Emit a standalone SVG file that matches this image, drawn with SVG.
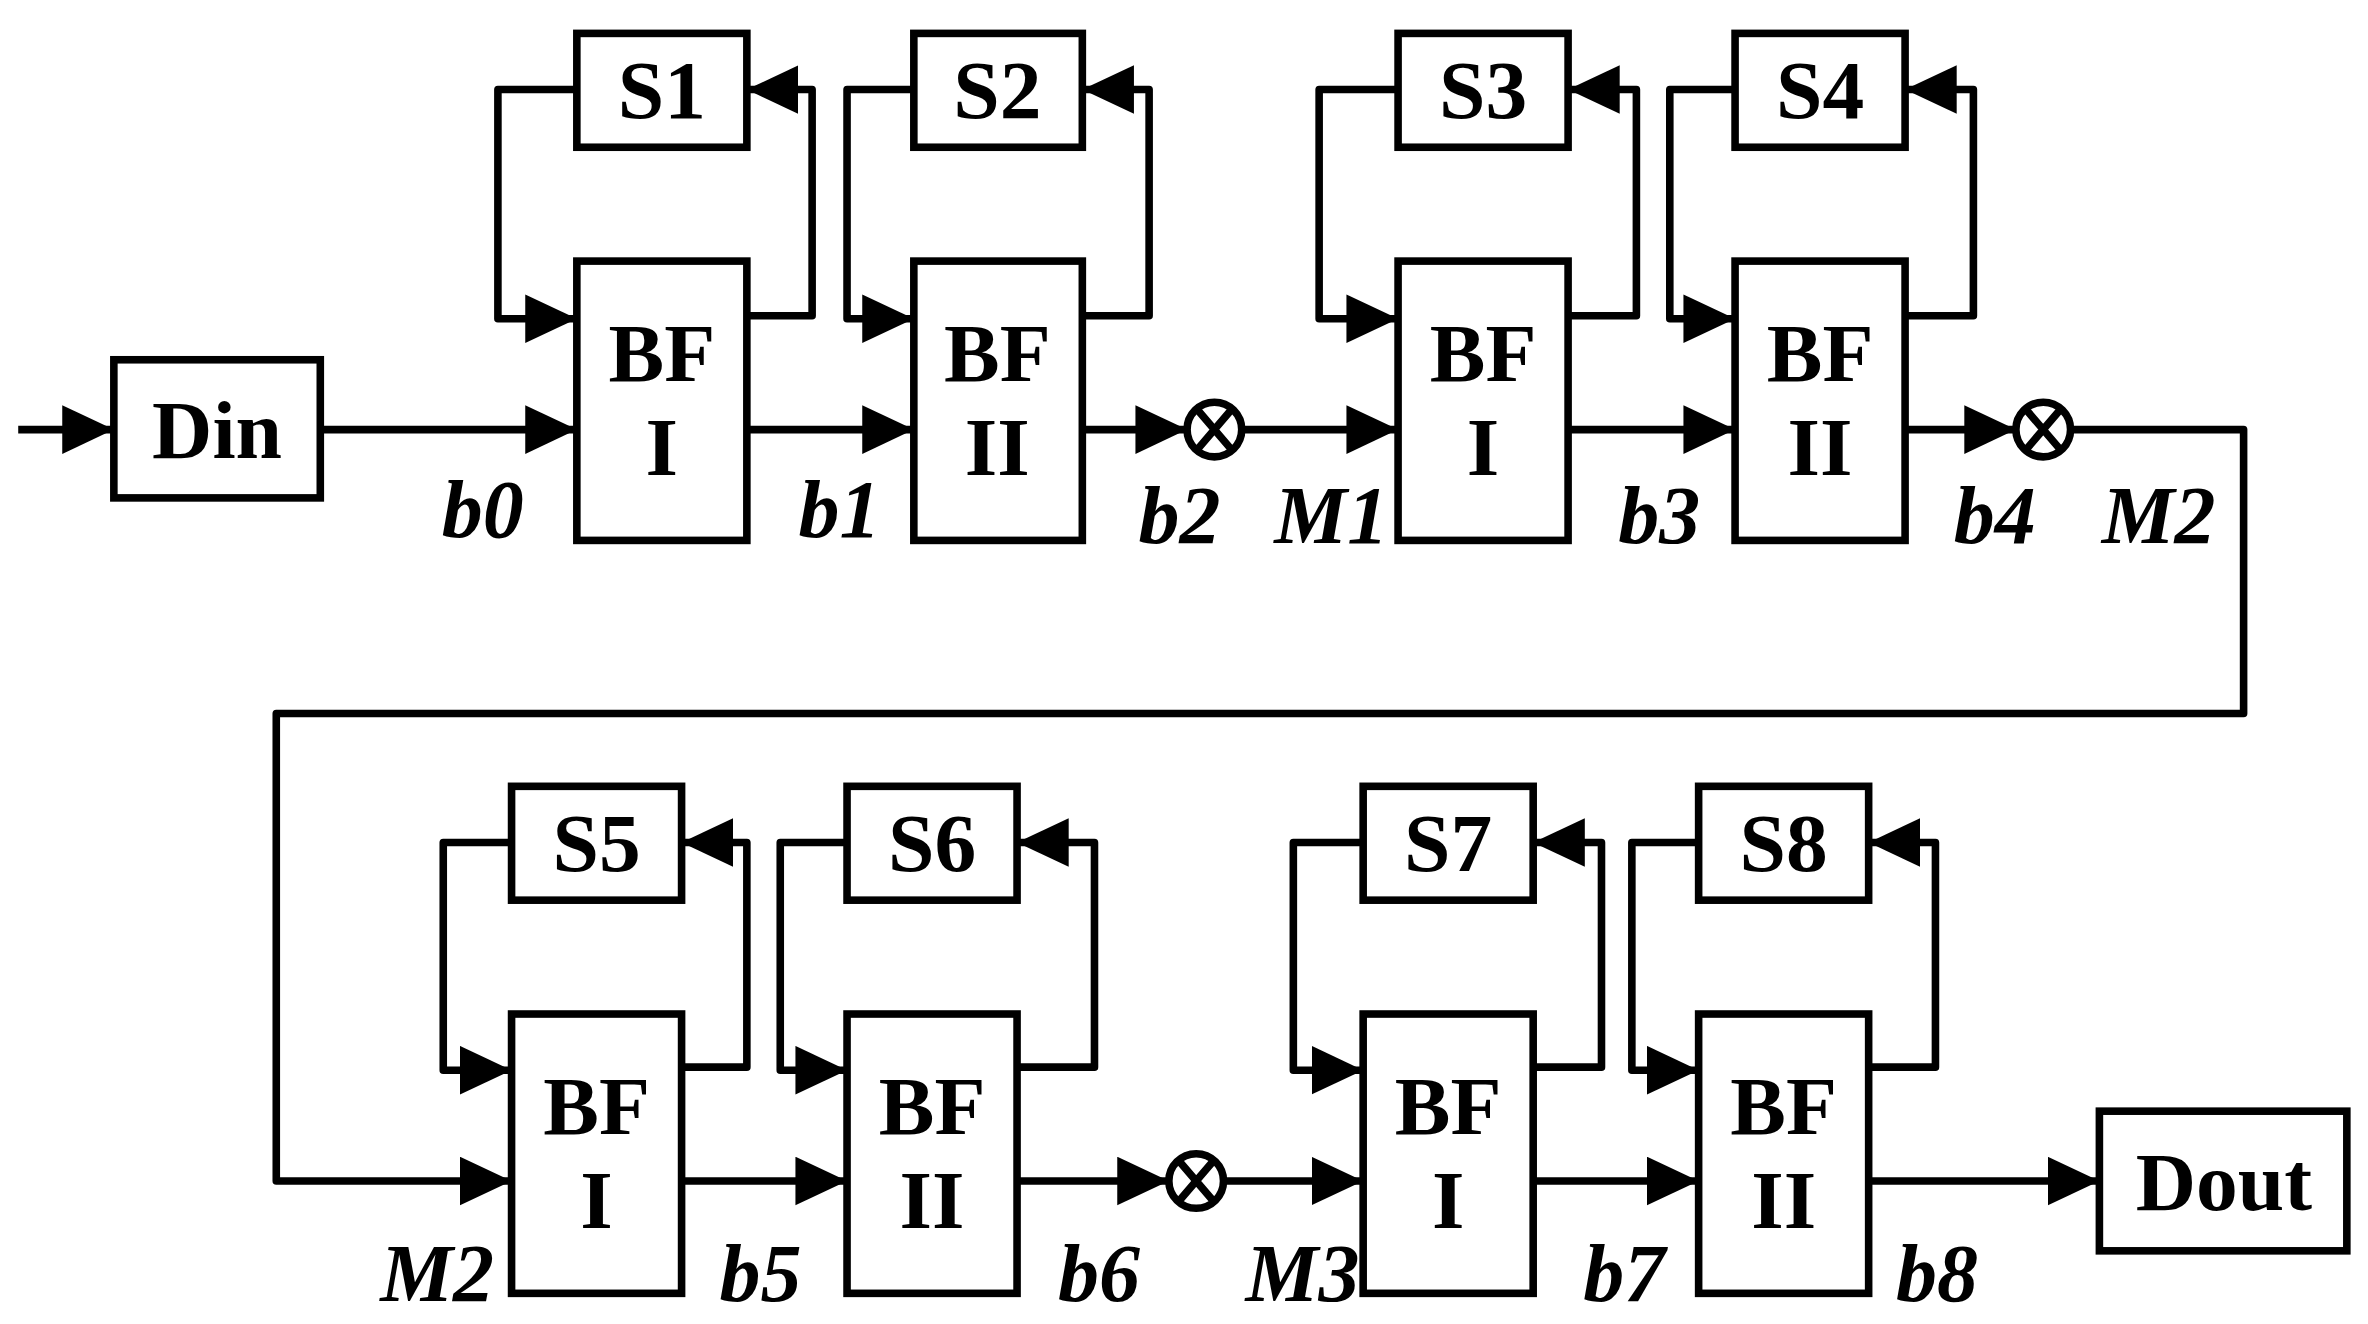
<svg xmlns="http://www.w3.org/2000/svg" width="2368" height="1324" viewBox="0 0 2368 1324">
<style>
.b{fill:#fff;stroke:#000;stroke-width:5}
.w{fill:none;stroke:#000;stroke-width:5;stroke-linejoin:round}
.a{marker-end:url(#ah)}
.t{font-family:"Liberation Serif",serif;font-weight:bold;font-size:55px;text-anchor:middle}
.l{font-family:"Liberation Serif",serif;font-weight:bold;font-style:italic;font-size:54px;text-anchor:middle}
</style>
<defs>
<marker id="ah" markerUnits="userSpaceOnUse" markerWidth="36" markerHeight="34" refX="34" refY="16" orient="auto"><path d="M0,0 L34,16 L0,32 z" fill="#000"/></marker>
</defs>
<rect width="2368" height="1324" fill="#fff"/>
<g transform="scale(1.518)">
<g id="connectors">
<path class="w a" d="M12,283 H75"/>
<path class="w a" d="M211,283 H380"/>
<path class="w a" d="M492,283 H602"/>
<path class="w a" d="M713,283 H782"/>
<path class="w a" d="M818,283 H921"/>
<path class="w a" d="M1033,283 H1143"/>
<path class="w a" d="M1255,283 H1328"/>
<path class="w a" d="M1364,283 H1478 V470 H182 V778 H337"/>
<path class="w a" d="M449,778 H558"/>
<path class="w a" d="M670,778 H770"/>
<path class="w a" d="M806,778 H898"/>
<path class="w a" d="M1010,778 H1119"/>
<path class="w a" d="M1231,778 H1383"/>
<path class="w a" d="M380,59 H328 V210 H380"/><path class="w a" d="M492,208 H535 V59 H492"/>
<path class="w a" d="M602,59 H558 V210 H602"/><path class="w a" d="M713,208 H757 V59 H713"/>
<path class="w a" d="M921,59 H869 V210 H921"/><path class="w a" d="M1033,208 H1078 V59 H1033"/>
<path class="w a" d="M1143,59 H1100 V210 H1143"/><path class="w a" d="M1255,208 H1300 V59 H1255"/>
<path class="w a" d="M337,555 H292 V705 H337"/><path class="w a" d="M449,703 H492 V555 H449"/>
<path class="w a" d="M558,555 H514 V705 H558"/><path class="w a" d="M670,703 H721 V555 H670"/>
<path class="w a" d="M898,555 H852 V705 H898"/><path class="w a" d="M1010,703 H1055 V555 H1010"/>
<path class="w a" d="M1119,555 H1075 V705 H1119"/><path class="w a" d="M1231,703 H1275 V555 H1231"/>
</g>
<g id="din"><rect class="b" x="75" y="237" width="136" height="91"/><text class="t" x="143" y="302">Din</text></g>
<g id="dout"><rect class="b" x="1383" y="732" width="163" height="92"/><text class="t" x="1465" y="797">Dout</text></g>
<g id="s1"><rect class="b" x="380" y="22" width="112" height="75"/><text class="t" x="436" y="78">S1</text></g>
<g id="s2"><rect class="b" x="602" y="22" width="111" height="75"/><text class="t" x="657" y="78">S2</text></g>
<g id="s3"><rect class="b" x="921" y="22" width="112" height="75"/><text class="t" x="977" y="78">S3</text></g>
<g id="s4"><rect class="b" x="1143" y="22" width="112" height="75"/><text class="t" x="1199" y="78">S4</text></g>
<g id="s5"><rect class="b" x="337" y="518" width="112" height="75"/><text class="t" x="393" y="574">S5</text></g>
<g id="s6"><rect class="b" x="558" y="518" width="112" height="75"/><text class="t" x="614" y="574">S6</text></g>
<g id="s7"><rect class="b" x="898" y="518" width="112" height="75"/><text class="t" x="954" y="574">S7</text></g>
<g id="s8"><rect class="b" x="1119" y="518" width="112" height="75"/><text class="t" x="1175" y="574">S8</text></g>
<g id="bf1"><rect class="b" x="380" y="172" width="112" height="184"/><text class="t" x="436" y="251">BF</text><text class="t" x="436" y="313">I</text></g>
<g id="bf2"><rect class="b" x="602" y="172" width="111" height="184"/><text class="t" x="657" y="251">BF</text><text class="t" x="657" y="313">II</text></g>
<g id="bf3"><rect class="b" x="921" y="172" width="112" height="184"/><text class="t" x="977" y="251">BF</text><text class="t" x="977" y="313">I</text></g>
<g id="bf4"><rect class="b" x="1143" y="172" width="112" height="184"/><text class="t" x="1199" y="251">BF</text><text class="t" x="1199" y="313">II</text></g>
<g id="bf5"><rect class="b" x="337" y="668" width="112" height="184"/><text class="t" x="393" y="747">BF</text><text class="t" x="393" y="809">I</text></g>
<g id="bf6"><rect class="b" x="558" y="668" width="112" height="184"/><text class="t" x="614" y="747">BF</text><text class="t" x="614" y="809">II</text></g>
<g id="bf7"><rect class="b" x="898" y="668" width="112" height="184"/><text class="t" x="954" y="747">BF</text><text class="t" x="954" y="809">I</text></g>
<g id="bf8"><rect class="b" x="1119" y="668" width="112" height="184"/><text class="t" x="1175" y="747">BF</text><text class="t" x="1175" y="809">II</text></g>
<g id="mul1"><circle class="b" cx="800" cy="283" r="18"/><path class="w" d="M788,269 L812,297 M812,269 L788,297"/></g>
<g id="mul2"><circle class="b" cx="1346" cy="283" r="18"/><path class="w" d="M1334,269 L1358,297 M1358,269 L1334,297"/></g>
<g id="mul3"><circle class="b" cx="788" cy="778" r="18"/><path class="w" d="M776,764 L800,792 M800,764 L776,792"/></g>
<g id="labels">
<text class="l" x="318" y="354">b0</text><text class="l" x="553" y="354">b1</text><text class="l" x="777" y="358">b2</text>
<text class="l" x="877" y="358">M1</text><text class="l" x="1093" y="358">b3</text><text class="l" x="1314" y="358">b4</text><text class="l" x="1422" y="358">M2</text>
<text class="l" x="288" y="857">M2</text><text class="l" x="501" y="857">b5</text><text class="l" x="724" y="857">b6</text>
<text class="l" x="858" y="857">M3</text><text class="l" x="1070" y="857">b7</text><text class="l" x="1276" y="857">b8</text>
</g>
</g>
</svg>
